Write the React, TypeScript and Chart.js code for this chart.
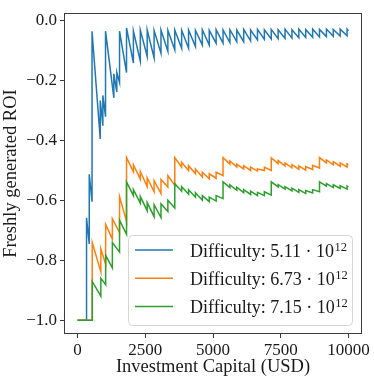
import React, { useEffect, useRef } from 'react';
import { Chart, registerables } from 'chart.js';

Chart.register(...registerables);

// ---- data ----
const blueX = [
  0, 332, 332, 432, 432, 535, 535, 838, 838, 934, 934, 1033, 1033, 1340, 1340, 1450, 1450, 1550, 1550, 1808, 1808,
  2062, 2062, 2317, 2317, 2571, 2571, 2826, 2826, 3080, 3080, 3334, 3334, 3589, 3589,
  3843, 3843, 4098, 4098, 4352, 4352, 4606, 4606, 4861, 4861, 5115, 5115, 5370, 5370,
  5624, 5624, 5878, 5878, 6133, 6133, 6387, 6387, 6642, 6642, 6896, 6896, 7150, 7150,
  7405, 7405, 7659, 7659, 7914, 7914, 8168, 8168, 8422, 8422, 8677, 8677, 8931, 8931,
  9186, 9186, 9440, 9440, 9694, 9694, 9949, 9949, 10000,
];
const blueY = [
  -1, -1, -0.659, -0.746, -0.514, -0.605, -0.037, -0.396, -0.268, -0.352, -0.251, -0.322, -0.037,
  -0.259, -0.179, -0.240, -0.175, -0.208, -0.037, -0.175, -0.026,
  -0.143, -0.037, -0.137, -0.033, -0.121, -0.033, -0.126, -0.035, -0.110, -0.033, -0.104, -0.034, -0.099, -0.033,
  -0.094, -0.034, -0.094, -0.033, -0.088, -0.034, -0.083, -0.032, -0.083, -0.034, -0.077, -0.032, -0.077, -0.033,
  -0.075, -0.032, -0.072, -0.033, -0.072, -0.031, -0.069, -0.033, -0.066, -0.031, -0.064, -0.032, -0.063, -0.031,
  -0.062, -0.032, -0.061, -0.030, -0.060, -0.032, -0.059, -0.030, -0.058, -0.031, -0.057, -0.030, -0.056, -0.031,
  -0.055, -0.030, -0.054, -0.031, -0.053, -0.030, -0.052, -0.030, -0.036,
];
const lowX = [
  0, 542, 542, 860, 860, 1038, 1038, 1285, 1285, 1550, 1550, 1808, 1808,
  2062, 2062, 2317, 2317, 2571, 2571, 2826, 2826, 3080, 3080, 3334, 3334, 3589, 3589,
  3843, 3843, 4098, 4098, 4352, 4352, 4606, 4606, 4861, 4861, 5115, 5115, 5370, 5370,
  5624, 5624, 5878, 5878, 6133, 6133, 6387, 6387, 6642, 6642, 6896, 6896, 7150, 7150,
  7405, 7405, 7659, 7659, 7914, 7914, 8168, 8168, 8422, 8422, 8677, 8677, 8931, 8931,
  9186, 9186, 9440, 9440, 9694, 9694, 9949, 9949, 10000,
];
const orangeY = [
  -1, -1, -0.741, -0.839, -0.762, -0.814, -0.681, -0.730, -0.662, -0.708, -0.588, -0.670, -0.458,
  -0.505, -0.482, -0.530, -0.505, -0.555, -0.525, -0.572, -0.535, -0.578, -0.531, -0.556, -0.518, -0.550, -0.458,
  -0.490, -0.474, -0.501, -0.485, -0.512, -0.496, -0.523, -0.507, -0.529, -0.512, -0.527, -0.507, -0.518, -0.458,
  -0.480, -0.469, -0.490, -0.480, -0.496, -0.485, -0.501, -0.490, -0.503, -0.496, -0.501, -0.490, -0.501, -0.459,
  -0.478, -0.468, -0.486, -0.476, -0.492, -0.482, -0.497, -0.486, -0.500, -0.488, -0.498, -0.484, -0.493, -0.458,
  -0.476, -0.466, -0.482, -0.472, -0.487, -0.476, -0.490, -0.479, -0.482,
];
const greenY = [
  -1, -1, -0.871, -0.920, -0.860, -0.882, -0.784, -0.826, -0.741, -0.773, -0.667, -0.714, -0.539,
  -0.585, -0.565, -0.610, -0.588, -0.635, -0.608, -0.655, -0.615, -0.658, -0.612, -0.638, -0.600, -0.626, -0.545,
  -0.570, -0.555, -0.580, -0.565, -0.590, -0.575, -0.600, -0.585, -0.605, -0.590, -0.603, -0.585, -0.595, -0.539,
  -0.558, -0.549, -0.567, -0.557, -0.575, -0.565, -0.581, -0.570, -0.585, -0.574, -0.585, -0.572, -0.583, -0.539,
  -0.556, -0.548, -0.563, -0.555, -0.569, -0.560, -0.574, -0.565, -0.578, -0.568, -0.576, -0.565, -0.572, -0.539,
  -0.553, -0.545, -0.558, -0.549, -0.561, -0.552, -0.563, -0.553, -0.556,
];
const difficulties = ['5.11', '6.73', '7.15'];
const exponent = '12';
const xTicks = [0, 2500, 5000, 7500, 10000];
const yTicks = [-1.0, -0.8, -0.6, -0.4, -0.2, 0.0];

const seriesColors = ['#1f77b4', '#ff7f0e', '#2ca02c'];
const FONT = "'Liberation Serif', 'DejaVu Serif', serif";
const TEXT = '#1a1a1a';
const FRAME = '#3a3a3a';

const zip = (xs: number[], ys: number[]) => xs.map((x, i) => ({ x, y: ys[i] }));

const framePlugin = {
  id: 'frame',
  afterDatasetsDraw(chart: any) {
    const { ctx, chartArea: a } = chart;
    ctx.save();
    ctx.strokeStyle = FRAME;
    ctx.lineWidth = 1;
    ctx.strokeRect(Math.round(a.left) + 0.5, Math.round(a.top) + 0.5, Math.round(a.right - a.left) - 1, Math.round(a.bottom - a.top) - 1);
    ctx.restore();
  },
};

const texLegendPlugin = {
  id: 'texLegend',
  afterDraw(chart: any) {
    const { ctx, chartArea: a } = chart;
    const boxW = 224;
    const boxH = 90;
    const x0 = Math.round(a.right - 10 - boxW);
    const y0 = Math.round(a.bottom - 9 - boxH);
    ctx.save();
    ctx.beginPath();
    ctx.roundRect(x0 + 0.5, y0 + 0.5, boxW, boxH, 4);
    ctx.fillStyle = 'rgba(255,255,255,0.8)';
    ctx.fill();
    ctx.strokeStyle = '#d4d4d4';
    ctx.lineWidth = 1;
    ctx.stroke();
    chart.data.datasets.forEach((ds: any, i: number) => {
      const cy = y0 + 15 + i * 28.3;
      ctx.beginPath();
      ctx.strokeStyle = ds.borderColor;
      ctx.lineWidth = 1.5;
      ctx.moveTo(x0 + 7, cy);
      ctx.lineTo(x0 + 45, cy);
      ctx.stroke();
      ctx.fillStyle = TEXT;
      ctx.textBaseline = 'alphabetic';
      ctx.textAlign = 'left';
      ctx.font = `18px ${FONT}`;
      const main = `Difficulty: ${difficulties[i]} · 10`;
      ctx.fillText(main, x0 + 62, cy + 6.5);
      const w = ctx.measureText(main).width;
      ctx.font = `12.5px ${FONT}`;
      ctx.fillText(exponent, x0 + 62 + w + 0.5, cy + 0.5);
    });
    ctx.restore();
  },
};

export default function App() {
  const ref = useRef<HTMLCanvasElement | null>(null);
  useEffect(() => {
    if (!ref.current) return;
    const tickFont = { family: FONT, size: 17 };
    const titleFont = { family: FONT, size: 18.5 };
    const grid = { display: true, drawOnChartArea: false, drawTicks: true, tickLength: 4, color: FRAME, lineWidth: 1 };
    const chart = new Chart(ref.current, {
      type: 'line',
      data: {
        datasets: [
          { label: `Difficulty: ${difficulties[0]}e${exponent}`, data: zip(blueX, blueY), borderColor: seriesColors[0], order: 2 },
          { label: `Difficulty: ${difficulties[1]}e${exponent}`, data: zip(lowX, orangeY), borderColor: seriesColors[1], order: 1 },
          { label: `Difficulty: ${difficulties[2]}e${exponent}`, data: zip(lowX, greenY), borderColor: seriesColors[2], order: 0 },
        ],
      },
      options: {
        animation: false,
        responsive: false,
        events: [],
        layout: { padding: { top: 6, right: 12, left: 0, bottom: 0 } },
        plugins: { legend: { display: false }, tooltip: { enabled: false } },
        elements: { point: { radius: 0 }, line: { tension: 0, borderWidth: 1.5, fill: false } },
        scales: {
          x: {
            type: 'linear',
            min: -500,
            max: 10500,
            afterBuildTicks: (s: any) => { s.ticks = xTicks.map((v) => ({ value: v })); },
            afterFit: (s: any) => { s.height = 47; },
            grid,
            border: { display: false },
            ticks: { font: tickFont, color: TEXT, padding: 2, maxRotation: 0, autoSkip: false, callback: (v: any) => String(v) },
            title: { display: true, text: 'Investment Capital (USD)', font: titleFont, color: TEXT, padding: { top: 0, bottom: 3 } },
          },
          y: {
            type: 'linear',
            min: -1.046,
            max: 0.023,
            afterBuildTicks: (s: any) => { s.ticks = yTicks.map((v) => ({ value: v })); },
            afterFit: (s: any) => { s.width = 64; },
            grid,
            border: { display: false },
            ticks: {
              font: tickFont,
              color: TEXT,
              padding: 3,
              autoSkip: false,
              callback: (v: any) => (Math.abs(v) < 1e-9 ? '0.0' : '\u2212' + Math.abs(v).toFixed(1)),
            },
            title: { display: true, text: 'Freshly generated ROI', font: titleFont, color: TEXT, padding: { top: 0, bottom: 0 } },
          },
        },
      },
      plugins: [framePlugin, texLegendPlugin],
    } as any);
    return () => chart.destroy();
  }, []);
  return (
    <div style={{ position: 'fixed', left: 0, top: 0, width: 374, height: 381, background: '#fff' }}>
      <canvas ref={ref} width={374} height={381} style={{ display: 'block' }} />
    </div>
  );
}
